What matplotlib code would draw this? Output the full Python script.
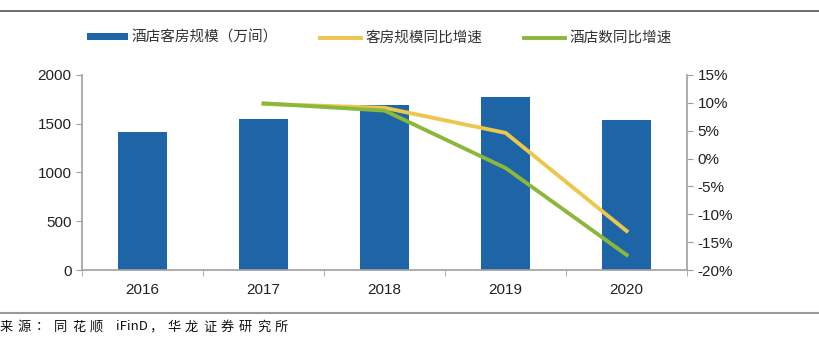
import re
import numpy as np
import matplotlib.pyplot as plt
from matplotlib.lines import Line2D
from matplotlib.patches import Patch

plt.rcParams['font.family'] = ['Liberation Sans', 'Noto Sans CJK SC', 'DejaVu Sans']

years = ['2016', '2017', '2018', '2019', '2020']
roomScale = [1415, 1549, 1692, 1774, 1535]          # 万间
roomGrowth = [None, 9.8, 9.1, 4.6, -13.0]            # %
hotelGrowth = [None, 9.9, 8.6, -1.7, -17.3]          # %
sourceNote = '来源：同花顺 iFinD，华龙证券研究所'

barColor = '#1D65A6'
yellow = '#EBC74E'
green = '#8BB83C'
axisGray = '#A0A0A0'

W, H = 820, 339
fig = plt.figure(figsize=(W / 100, H / 100), dpi=100)
ax = fig.add_axes([0.1, 0.2035, 0.738, 0.5755])
x = np.arange(len(years))
ax.bar(x, roomScale, width=0.4, color=barColor, zorder=2)
ax.set_xlim(-0.5, 4.5)
ax.set_ylim(0, 2000)
ax.set_yticks([0, 500, 1000, 1500, 2000])
ax.set_xticks(x)
ax.set_xticklabels(years)
ax.set_xticks(np.arange(-0.5, 4.6, 1), minor=True)
ax.tick_params(axis='x', which='major', length=0, labelsize=11, pad=9, colors='#222222')
ax.tick_params(axis='x', which='minor', length=4, color=axisGray, direction='out')
ax.tick_params(axis='y', length=4, color=axisGray, labelsize=11, labelcolor='#222222')
for side in ['top', 'right']:
    ax.spines[side].set_visible(False)
for side in ['left', 'bottom']:
    ax.spines[side].set_color(axisGray)
    ax.spines[side].set_linewidth(1.2)

ax2 = ax.twinx()
gx = x[1:]
ax2.plot(gx, roomGrowth[1:], color=yellow, lw=2.8, zorder=3)
ax2.plot(gx, hotelGrowth[1:], color=green, lw=2.8, zorder=4)
ax2.set_ylim(-20, 15)
ax2.set_yticks(np.arange(-20, 16, 5))
ax2.set_yticklabels([f'{v}%' for v in range(-20, 16, 5)])
ax2.tick_params(axis='y', length=4, color=axisGray, labelsize=11, labelcolor='#222222')
for side in ['top', 'left', 'bottom']:
    ax2.spines[side].set_visible(False)
ax2.spines['right'].set_color(axisGray)
ax2.spines['right'].set_linewidth(1.2)

handles = [
    Patch(facecolor=barColor, label='酒店客房规模（万间）'),
    Line2D([], [], color=yellow, lw=2.8, label='客房规模同比增速'),
    Line2D([], [], color=green, lw=2.8, label='酒店数同比增速'),
]
leg = fig.legend(handles=handles, loc='center left', bbox_to_anchor=(87 / W, 1 - 38 / H),
                 ncol=3, frameon=False, handlelength=2.8, handleheight=0.35,
                 handletextpad=0.27, columnspacing=2.9, borderpad=0, borderaxespad=0,
                 prop={'family': ['Noto Sans CJK SC'], 'size': 10.5})
for t in leg.get_texts():
    t.set_color('#333333')

# frame rules
fig.add_artist(Line2D([0, 1], [1 - 11 / H, 1 - 11 / H], color='#555555', lw=1.2))
fig.add_artist(Line2D([0, 1], [1 - 313 / H, 1 - 313 / H], color='#999999', lw=1.5))

# source note: the original is set wide, so place CJK chars one by one
px = 0
for tok in re.findall(r'[A-Za-z]+| |.', sourceNote):
    if tok == ' ':
        px += 8
        continue
    fig.text(px / W, 1 - 327 / H, tok, fontsize=9.5, ha='left', va='center',
             family=['Noto Sans CJK SC'], color='#111111')
    px += 33 if tok.isascii() else 18

fig.savefig('out.png', dpi=100)
